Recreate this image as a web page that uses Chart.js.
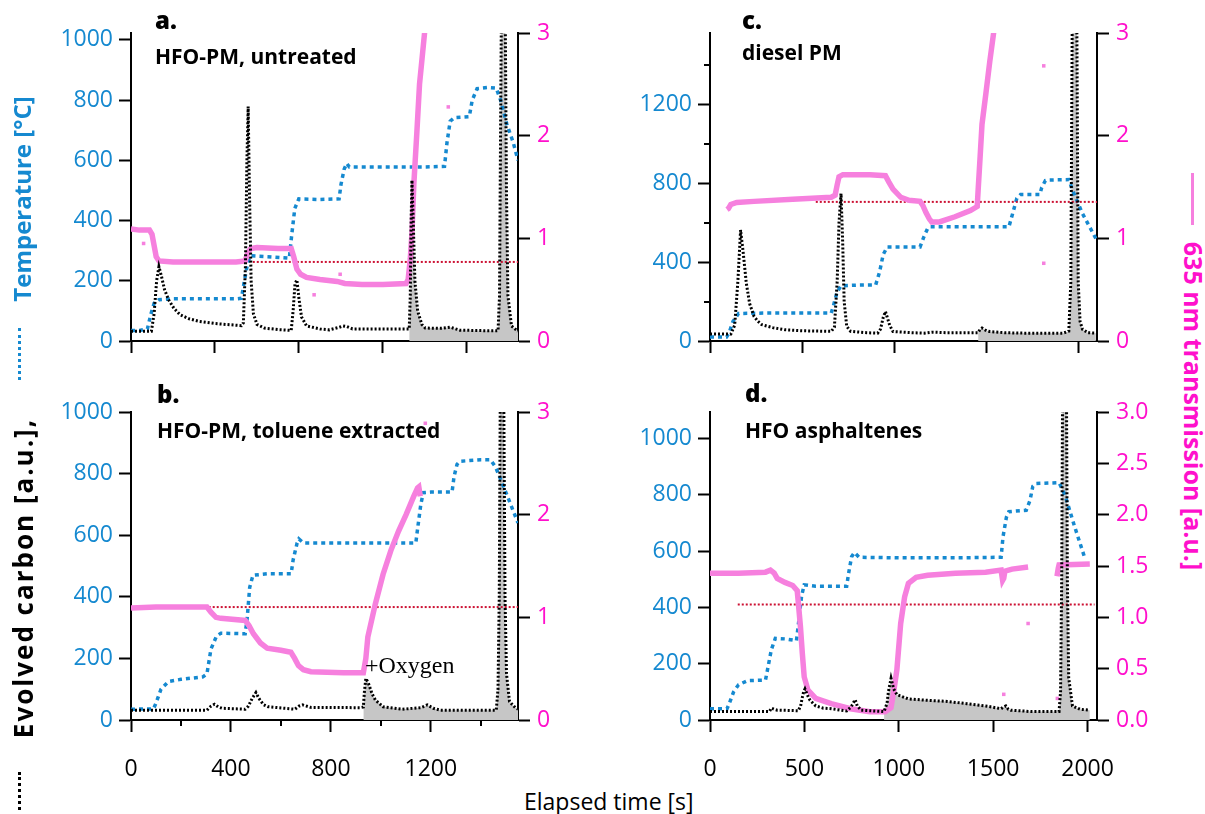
<!DOCTYPE html>
<html><head><meta charset="utf-8">
<script src="https://cdn.jsdelivr.net/npm/chart.js@4.4.1/dist/chart.umd.min.js"></script>
<style>
html,body{margin:0;padding:0;background:#fff;}
#wrap{position:relative;width:1205px;height:814px;overflow:hidden;font-family:'Open Sans',sans-serif;}
canvas{position:absolute;}
.t{position:absolute;white-space:nowrap;line-height:1;color:#000;}
.plab{font-weight:800;font-size:24px;}
.sub{font-weight:700;font-size:21px;}
.rot{position:absolute;white-space:nowrap;line-height:1;font-weight:700;font-size:24px;transform:translate(-50%,-50%) rotate(-90deg);}
.rotr{position:absolute;white-space:nowrap;line-height:1;font-weight:700;font-size:25px;transform:translate(-50%,-50%) rotate(90deg);}
</style></head>
<body><div id="wrap">
<canvas id="ca" width="547" height="401" style="left:31px;top:0px;"></canvas>
<canvas id="cb" width="547" height="401" style="left:31px;top:379px;"></canvas>
<canvas id="cc" width="547" height="401" style="left:610px;top:0px;"></canvas>
<canvas id="cd" width="547" height="401" style="left:610px;top:379px;"></canvas>

<div class="t plab" style="left:155px;top:8px;">a.</div>
<div class="t sub" style="left:155px;top:46px;">HFO-PM, untreated</div>
<div class="t plab" style="left:742px;top:8px;">c.</div>
<div class="t sub" style="left:742px;top:42px;">diesel PM</div>
<div class="t plab" style="left:157px;top:382px;">b.</div>
<div class="t sub" style="left:157px;top:420px;">HFO-PM, toluene extracted</div>
<div class="t plab" style="left:745px;top:381px;">d.</div>
<div class="t sub" style="left:745px;top:420px;">HFO asphaltenes</div>
<div class="t" style="left:365px;top:653px;font-family:'Liberation Serif',serif;font-size:24px;">+Oxygen</div>
<div class="t" style="left:524px;top:790px;font-size:23px;">Elapsed time [s]</div>

<div class="rot" style="left:22px;top:199px;color:#1589d0;">Temperature [°C]</div>
<div style="position:absolute;left:18px;top:328px;width:0;height:52px;border-left:3px dotted #1589d0;"></div>
<div class="rot" style="left:23px;top:578px;color:#000;font-size:26px;letter-spacing:2px;">Evolved carbon [a.u.],</div>
<div style="position:absolute;left:18px;top:772px;width:0;height:38px;border-left:3px dotted #000;"></div>
<div style="position:absolute;left:1191px;top:173px;width:0;height:52px;border-left:3px solid #f680de;"></div>
<div class="rotr" style="left:1193px;top:406px;color:#ff10cc;">635 nm transmission [a.u.]</div>
</div>
<script>
// ---------------- Panel a: HFO-PM, untreated ----------------
const aTempT = [0,40,78,95,110,133,200,300,400,500,526,540,556,570,650,754,765,780,799,900,991,1000,1015,1027,1040,1200,1400,1493,1505,1520,1540,1611,1625,1648,1700,1739,1760,1790,1820,1843];
const aTemp  = [35,35,40,90,125,137,140,140,140,140,142,200,260,283,280,275,350,440,472,470,472,520,570,590,578,578,578,580,660,730,742,745,800,838,842,840,800,720,660,600];
const aCarbT = [0,97,110,122,133,145,160,179,205,234,280,325,400,471,526,535,545,552,558,564,572,583,600,635,700,763,772,781,790,800,812,836,900,945,990,1010,1027,1055,1200,1325,1330,1334,1338,1344,1352,1365,1385,1401,1480,1520,1566,1700,1748,1755,1760,1764,1782,1788,1795,1812,1843];
const aCarb  = [32,32,90,200,247,215,170,137,108,87,73,65,58,54,51,60,250,600,779,500,200,90,55,43,38,35,100,190,203,140,80,50,40,37,45,50,48,40,40,40,150,400,534,400,200,100,55,43,42,46,36,34,34,150,700,1100,1100,500,150,50,32];
const aTransT = [0,40,88,100,110,120,133,200,300,400,500,544,556,570,600,700,763,775,790,808,836,900,982,1018,1100,1200,1310,1320,1330,1338,1347,1361,1374,1386,1398,1420];
const aTrans  = [1.09,1.08,1.08,1.04,0.93,0.82,0.78,0.77,0.77,0.77,0.77,0.78,0.86,0.90,0.91,0.90,0.90,0.82,0.70,0.65,0.62,0.60,0.58,0.56,0.55,0.55,0.56,0.60,0.80,1.05,1.53,2.02,2.50,2.75,3.00,3.50];
const aOutT = [60,872,996,1511];
const aOutV = [0.95,0.45,0.65,2.28];
const aRefT = [580,1843];
const aRefV = [0.77,0.77];
const aOxygen = 1325;
const aXTicks = [0,400,800,1200,1600];
const aYTicks = [0,200,400,600,800,1000];

// ---------------- Panel b: HFO-PM, toluene extracted ----------------
const bTempT = [0,90,100,120,150,200,288,304,320,342,360,457,465,475,488,550,641,649,665,672,690,900,1140,1147,1160,1170,1200,1285,1293,1305,1316,1400,1439,1460,1500,1549];
const bTemp  = [35,36,55,100,125,132,140,150,230,272,282,280,330,430,470,475,475,520,575,588,575,575,575,620,700,738,740,740,790,830,840,845,845,820,740,640];
const bCarbT = [0,304,320,334,350,365,457,470,485,500,512,530,549,656,672,687,718,917,930,934,940,950,965,978,1009,1086,1160,1186,1210,1239,1462,1469,1474,1478,1492,1497,1503,1515,1538,1549];
const bCarb  = [32,32,45,51,42,38,35,45,70,89,70,50,43,35,45,49,41,40,42,90,135,120,85,65,43,35,40,49,38,32,32,100,400,1050,1050,400,150,60,40,35];
const bTransT = [0,100,200,304,320,340,360,457,472,490,518,545,600,640,655,670,690,720,850,930,940,948,978,1009,1040,1071,1101,1132,1147,1152,1158];
const bTrans  = [1.09,1.10,1.10,1.10,1.05,1.00,0.99,0.97,0.92,0.84,0.75,0.70,0.68,0.66,0.60,0.53,0.49,0.47,0.46,0.46,0.60,0.81,1.13,1.42,1.65,1.84,2.00,2.18,2.26,2.27,2.18];
const bOutT = [1178];
const bOutV = [2.89];
const bRefT = [311,1549];
const bRefV = [1.10,1.10];
const bOxygen = 930;
const bXTicks = [0,400,800,1200];
const bXMinor = [200,600,1000,1400];
const bYTicks = [0,200,400,600,800,1000];

// ---------------- Panel c: diesel PM ----------------
const cTempT = [0,90,103,125,155,300,500,658,670,690,711,800,899,920,940,962,1050,1140,1161,1180,1193,1400,1622,1643,1665,1685,1790,1800,1820,1832,1947,1970,2020,2094];
const cTemp  = [20,20,40,100,140,142,142,142,180,250,280,284,285,350,440,478,478,478,530,570,580,580,580,650,725,744,744,780,815,818,820,760,650,520];
const cCarbT = [0,113,134,151,166,180,197,215,239,260,281,340,407,500,658,675,690,700,711,720,728,742,763,850,910,925,940,952,962,975,993,1100,1161,1203,1287,1455,1465,1476,1500,1518,1600,1706,1916,1947,1958,1966,1990,1998,2008,2021,2050,2094];
const cCarb  = [35,35,80,300,564,450,294,190,125,100,83,68,57,52,49,70,300,600,749,500,200,74,49,42,40,60,120,150,120,80,48,42,40,45,42,42,58,66,52,48,42,40,40,50,300,1700,1700,300,100,60,42,40];
const cTransT = [92,100,113,145,239,449,658,679,690,700,721,868,952,970,993,1035,1080,1140,1155,1172,1190,1203,1245,1329,1413,1450,1456,1466,1476,1497,1518,1539,1560];
const cTrans  = [1.28,1.29,1.33,1.35,1.36,1.38,1.40,1.42,1.52,1.60,1.62,1.62,1.61,1.55,1.48,1.40,1.37,1.36,1.32,1.25,1.19,1.16,1.16,1.21,1.27,1.31,1.50,1.80,2.11,2.41,2.72,3.00,3.30];
const cOutT = [1811,1811];
const cOutV = [2.68,0.757];
const cRefT = [574,2100];
const cRefV = [1.355,1.355];
const cOxygen = 1455;
const cXTicks = [0,500,1000,1500,2000];
const cYTicks = [0,400,800,1200];
const cYMinor = [200,600,1000,1400];

// ---------------- Panel d: HFO asphaltenes ----------------
const dTempT = [0,90,100,125,151,200,294,305,325,346,400,458,470,485,499,560,724,734,750,765,790,1000,1300,1542,1552,1570,1583,1675,1695,1710,1726,1849,1880,1930,1988];
const dTemp  = [40,40,55,100,125,140,142,180,250,290,288,282,350,440,480,475,475,520,580,595,578,576,576,578,650,720,740,745,780,830,840,843,800,690,570];
const dCarbT = [0,315,325,340,356,468,480,489,496,503,515,530,560,600,642,724,745,755,769,780,800,922,938,945,959,973,990,1010,1051,1150,1256,1360,1460,1542,1552,1567,1580,1593,1700,1849,1857,1863,1868,1888,1893,1900,1920,1960,2012];
const dCarb  = [30,30,42,38,35,33,50,80,100,110,90,70,50,42,40,32,45,55,72,50,35,30,60,100,148,110,90,85,75,70,66,58,50,40,45,50,38,35,30,30,100,500,1200,1200,500,150,50,38,35];
const dTransT = [0,150,294,320,340,356,397,438,462,468,479,489,499,519,560,642,744,847,928,959,975,990,1010,1031,1051,1092,1153,1300,1460,1542,1550,1556,1562,1600,1685,1760,1838,1845,1849,2012];
const dTrans  = [1.43,1.43,1.44,1.46,1.43,1.38,1.34,1.31,1.26,1.14,0.91,0.65,0.42,0.29,0.21,0.16,0.11,0.08,0.08,0.12,0.30,0.49,0.94,1.20,1.33,1.39,1.41,1.43,1.44,1.46,1.36,1.38,1.45,1.47,1.49,null,1.40,1.48,1.51,1.52];
const dOutT = [1685,1556,1840];
const dOutV = [0.94,0.25,0.21];
const dRefT = [147,2037];
const dRefV = [1.125,1.125];
const dOxygen = 922;
const dXTicks = [0,500,1000,1500,2000];
const dYTicks = [0,200,400,600,800,1000];

// right-hand transmission ticks
const transTicks = [0,1,2,3];
const transTicksD = [0,0.5,1,1.5,2,2.5,3];

// ---------------- styling ----------------
const BLUE = '#1589d0', BLUE_TXT = '#1589d0', PINK = '#f680de', MAG = '#ff10cc', RED = '#cc1133', GRAY = '#c6c6c6';
Chart.defaults.font.family = "'Open Sans', sans-serif";

const minorPlugin = {
  id: 'minor',
  afterDraw(chart, args, opts) {
    const ctx = chart.ctx;
    ctx.save(); ctx.strokeStyle = '#000'; ctx.lineWidth = 2;
    (opts.list || []).forEach(m => {
      const s = chart.scales[m.axis];
      m.values.forEach(v => {
        if (v > s.max) return;
        const p = Math.round(s.getPixelForValue(v));
        ctx.beginPath();
        if (m.axis === 'x') { ctx.moveTo(p, s.top); ctx.lineTo(p, s.top + 6); }
        else { ctx.moveTo(s.right, p); ctx.lineTo(s.right - 6, p); }
        ctx.stroke();
      });
    });
    ctx.restore();
  }
};

function P(ts, vs) { return ts.map((t, i) => ({x: t, y: vs[i]})); }
function fixTicks(list) { return s => { s.ticks = list.map(v => ({value: v})); }; }

function axisCommon(extra) {
  return Object.assign({
    grid: {drawOnChartArea: false, drawTicks: true, tickLength: 12, tickColor: '#000', tickWidth: 2},
    border: {display: true, color: '#000', width: 2}
  }, extra);
}

function panel(id, S) {
  const tickFont = {family: "'Open Sans', sans-serif", size: 23};
  const datasets = [
    {data: P(S.carbT, S.carb), yAxisID: 'yC', borderColor: '#000', borderWidth: 3, borderDash: [2, 2], pointRadius: 0, fill: false, order: 1},
    {data: P(S.transT, S.trans), yAxisID: 'y2', borderColor: PINK, borderWidth: 5.5, pointRadius: 0, fill: false, order: 2, spanGaps: false},
    {data: P(S.outT, S.outV), yAxisID: 'y2', showLine: false, pointStyle: 'rect', pointRadius: 2.5, pointBackgroundColor: PINK, pointBorderWidth: 0, order: 2},
    {data: P(S.refT, S.refV), yAxisID: 'y2', borderColor: RED, borderWidth: 2, borderDash: [2, 2], pointRadius: 0, fill: false, order: 3},
    {data: P(S.tempT, S.temp), yAxisID: 'y', borderColor: BLUE, borderWidth: 3.5, borderDash: [4, 4], pointRadius: 0, fill: false, order: 4},
    {data: P(S.carbT, S.carb).filter(p => p.x >= S.oxy), yAxisID: 'yC', borderWidth: 0, borderColor: 'rgba(0,0,0,0)', backgroundColor: GRAY, fill: 'origin', pointRadius: 0, order: 5}
  ];
  new Chart(document.getElementById(id), {
    type: 'line',
    data: {datasets},
    plugins: [minorPlugin],
    options: {
      responsive: false, animation: false, events: [],
      layout: {padding: {top: 33, left: 0, right: 0, bottom: 0}},
      elements: {line: {tension: 0}},
      plugins: {legend: {display: false}, tooltip: {enabled: false}, minor: {list: S.minor}},
      scales: {
        x: axisCommon({type: 'linear', min: 0, max: S.xMax,
          ticks: {autoSkip: false, maxRotation: 0, color: '#000', font: tickFont, padding: 24,
                  callback: v => S.xLabels ? String(v) : ''},
          afterBuildTicks: fixTicks(S.xTicks),
          afterFit: s => { s.height = 60; }}),
        y: axisCommon({position: 'left', min: 0, max: S.yMax,
          ticks: {autoSkip: false, color: BLUE_TXT, font: tickFont, padding: 6, callback: v => String(v)},
          afterBuildTicks: fixTicks(S.yTicks),
          afterFit: s => { s.width = 100; }}),
        y2: axisCommon({position: 'right', min: 0, max: 3,
          ticks: {autoSkip: false, color: MAG, font: tickFont, padding: 7,
                  callback: v => S.y2Dec ? v.toFixed(1) : String(v)},
          afterBuildTicks: fixTicks(S.y2Ticks),
          afterFit: s => { s.width = 60; }}),
        yC: {display: false, min: 0, max: S.yMax}
      }
    }
  });
}

panel('ca', {tempT: aTempT, temp: aTemp, carbT: aCarbT, carb: aCarb, transT: aTransT, trans: aTrans, outT: aOutT, outV: aOutV, refT: aRefT, refV: aRefV, oxy: aOxygen,
  xMax: 1843, xTicks: aXTicks, xLabels: false, yMax: 1023, yTicks: aYTicks, y2Ticks: transTicks, y2Dec: false, minor: []});
panel('cb', {tempT: bTempT, temp: bTemp, carbT: bCarbT, carb: bCarb, transT: bTransT, trans: bTrans, outT: bOutT, outV: bOutV, refT: bRefT, refV: bRefV, oxy: bOxygen,
  xMax: 1549, xTicks: bXTicks, xLabels: true, yMax: 1000, yTicks: bYTicks, y2Ticks: transTicks, y2Dec: false, minor: [{axis: 'x', values: bXMinor}]});
panel('cc', {tempT: cTempT, temp: cTemp, carbT: cCarbT, carb: cCarb, transT: cTransT, trans: cTrans, outT: cOutT, outV: cOutV, refT: cRefT, refV: cRefV, oxy: cOxygen,
  xMax: 2100, xTicks: cXTicks, xLabels: false, yMax: 1565, yTicks: cYTicks, y2Ticks: transTicks, y2Dec: false, minor: [{axis: 'y', values: cYMinor}]});
panel('cd', {tempT: dTempT, temp: dTemp, carbT: dCarbT, carb: dCarb, transT: dTransT, trans: dTrans, outT: dOutT, outV: dOutV, refT: dRefT, refV: dRefV, oxy: dOxygen,
  xMax: 2050, xTicks: dXTicks, xLabels: true, yMax: 1094, yTicks: dYTicks, y2Ticks: transTicksD, y2Dec: true, minor: []});
</script>
</body></html>
